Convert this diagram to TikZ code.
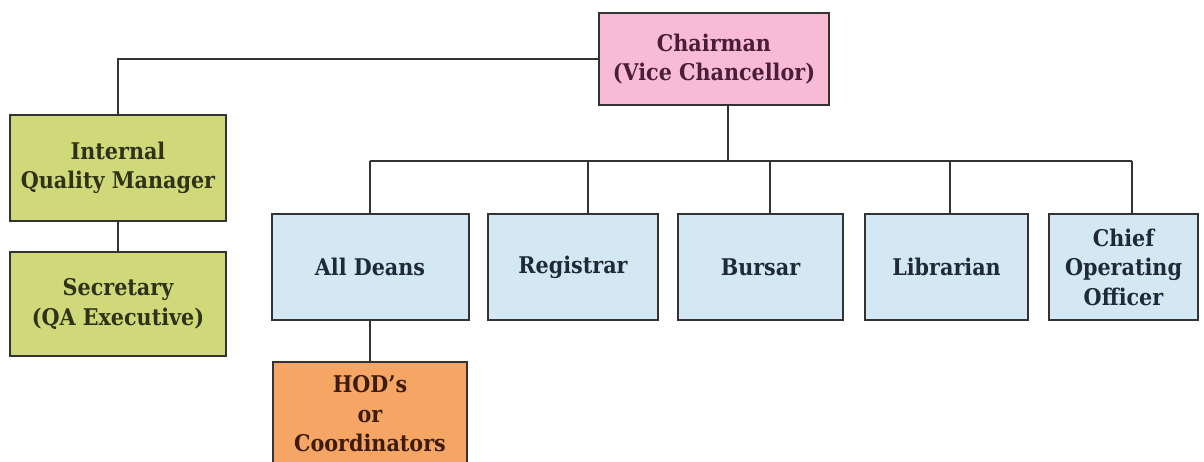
\documentclass[tikz,border=0pt]{standalone}
\usepackage{fontspec}
\setmainfont{DejaVu Serif Condensed}[BoldFont={DejaVu Serif Condensed Bold}]
\definecolor{pinkfill}{HTML}{F8BBD6}
\definecolor{greenfill}{HTML}{CFD97A}
\definecolor{bluefill}{HTML}{D4E8F4}
\definecolor{orangefill}{HTML}{F5A665}
\definecolor{edge}{HTML}{333333}
\definecolor{tpink}{HTML}{4A1E38}
\definecolor{tgreen}{HTML}{2F3216}
\definecolor{tblue}{HTML}{1E2A38}
\definecolor{torange}{HTML}{3D1C0C}
\begin{document}
\begin{tikzpicture}[x=1pt,y=-1pt,
  box/.style={draw=edge,line width=2pt,align=center,inner sep=0pt,
    font=\fontsize{23}{29.5}\selectfont\bfseries},
  link/.style={draw=edge,line width=2pt}]
\useasboundingbox (0,0) rectangle (1204,461);
\node[box,fill=pinkfill,text=tpink,minimum width=230pt,minimum height=92pt] (chair) at (714,59) {Chairman\\(Vice Chancellor)};
\node[box,fill=greenfill,text=tgreen,minimum width=216pt,minimum height=106pt] (iqm) at (118,168) {Internal\\Quality Manager};
\node[box,fill=greenfill,text=tgreen,minimum width=216pt,minimum height=104pt] (sec) at (118,304) {Secretary\\(QA Executive)};
\node[box,fill=bluefill,text=tblue,minimum width=197pt,minimum height=106pt] (deans) at (370,267) {All Deans};
\node[box,fill=bluefill,text=tblue,minimum width=170pt,minimum height=106pt] (reg) at (573,267) {Registrar};
\node[box,fill=bluefill,text=tblue,minimum width=165pt,minimum height=106pt] (bursar) at (760.5,267) {Bursar};
\node[box,fill=bluefill,text=tblue,minimum width=163pt,minimum height=106pt] (lib) at (946.5,267) {Librarian};
\node[box,fill=bluefill,text=tblue,minimum width=149pt,minimum height=106pt] (coo) at (1123.5,267) {Chief\\Operating\\Officer};
\node[box,fill=orangefill,text=torange,minimum width=194pt,minimum height=104pt] (hod) at (370,414) {HOD's\\or\\Coordinators};
\coordinate (bc) at (728,161);
\coordinate (b1) at (370,161);
\coordinate (b2) at (588,161);
\coordinate (b3) at (770,161);
\coordinate (b4) at (950,161);
\coordinate (b5) at (1132,161);
\draw[link] (chair.south -| bc) -- (bc);
\draw[link] (b1) -- (b5);
\draw[link] (b1) -- (deans.north);
\draw[link] (b2) -- (reg.north -| b2);
\draw[link] (b3) -- (bursar.north -| b3);
\draw[link] (b4) -- (lib.north -| b4);
\draw[link] (b5) -- (coo.north -| b5);
\draw[link] (chair.west) -| (iqm.north);
\draw[link] (iqm.south) -- (sec.north);
\draw[link] (deans.south) -- (hod.north);
\end{tikzpicture}
\end{document}
